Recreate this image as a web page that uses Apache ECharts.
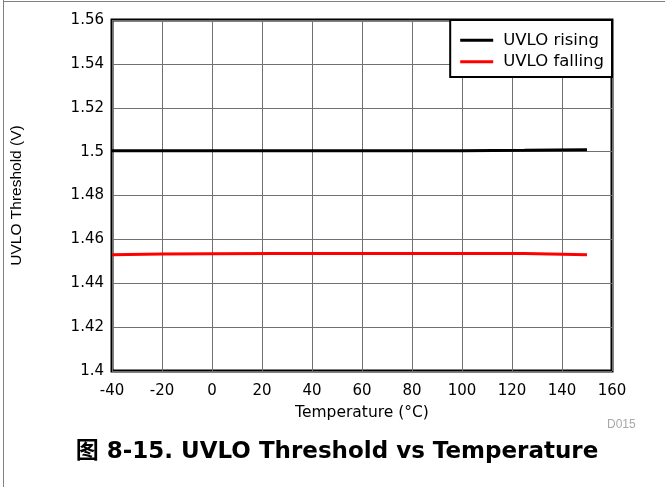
<!DOCTYPE html>
<html><head><meta charset="utf-8">
<script src="https://cdn.jsdelivr.net/npm/echarts@6/dist/echarts.min.js"></script>
<style>html,body{margin:0;padding:0;background:#fff}#c{width:665px;height:487px}</style>
</head><body><div id="c"></div>
<script>
const temps = [-40, -20, 0, 25, 50, 75, 100, 125, 150];
const uvloRising = [1.5004, 1.5004, 1.5004, 1.5004, 1.5004, 1.5004, 1.5004, 1.5006, 1.5009];
const uvloFalling = [1.4530, 1.4533, 1.4535, 1.4536, 1.4536, 1.4536, 1.4536, 1.4536, 1.4530];
const seriesNames = ['UVLO rising', 'UVLO falling'];
const xTitle = 'Temperature (°C)';
const yTitle = 'UVLO Threshold (V)';
const chartTitle = '图 8-15. UVLO Threshold vs Temperature';
const font = '"DejaVu Sans", "Noto Sans CJK SC", sans-serif';
const chart = echarts.init(document.getElementById('c'), null, {renderer: 'canvas'});
chart.setOption({
  animation: false,
  backgroundColor: '#fff',
  textStyle: {fontFamily: font},
  grid: {left: 112, right: 53, top: 20, bottom: 116, show: true, borderColor: '#000', borderWidth: 3, backgroundColor: 'transparent'},
  legend: {
    right: 53, top: 20, orient: 'vertical', backgroundColor: '#fff', borderColor: '#000', borderWidth: 2,
    padding: [12, 8, 7, 10], itemGap: 5, itemWidth: 33, itemHeight: 3, icon: 'rect',
    textStyle: {fontFamily: font, fontSize: 16.5, lineHeight: 16, color: '#000', padding: [0, 0, 0, 5]},
    data: seriesNames
  },
  xAxis: {
    type: 'value', min: -40, max: 160, interval: 20,
    name: xTitle, nameLocation: 'middle', nameGap: 34,
    nameTextStyle: {fontFamily: font, fontSize: 15.5, color: '#000'},
    axisLine: {show: false}, axisTick: {show: false},
    axisLabel: {fontFamily: font, fontSize: 15, color: '#000', margin: 13},
    splitLine: {show: true, lineStyle: {color: '#707070', width: 1}}
  },
  yAxis: {
    type: 'value', min: 1.4, max: 1.56, interval: 0.02,
    name: yTitle, nameLocation: 'middle', nameGap: 87, nameRotate: 90,
    nameTextStyle: {fontFamily: '"Liberation Sans", Arial, sans-serif', fontSize: 15.5, color: '#000'},
    axisLine: {show: false}, axisTick: {show: false},
    axisLabel: {fontFamily: font, fontSize: 15, color: '#000', margin: 8,
      formatter: v => String(+v.toFixed(2))},
    splitLine: {show: true, lineStyle: {color: '#707070', width: 1}}
  },
  series: [
    {name: seriesNames[0], type: 'line', showSymbol: false, symbol: 'none', color: '#000',
     lineStyle: {color: '#000', width: 3}, data: temps.map((t, i) => [t, uvloRising[i]])},
    {name: seriesNames[1], type: 'line', showSymbol: false, symbol: 'none', color: '#ff0000',
     lineStyle: {color: '#ff0000', width: 3}, data: temps.map((t, i) => [t, uvloFalling[i]])}
  ],
  graphic: [
    {type: 'line', shape: {x1: 3.5, y1: 0, x2: 3.5, y2: 487}, style: {stroke: '#808080', lineWidth: 1}},
    {type: 'line', shape: {x1: 3, y1: 1.5, x2: 665, y2: 1.5}, style: {stroke: '#808080', lineWidth: 1}},
    {type: 'text', x: 607, y: 419, style: {text: 'D015', font: '12px "Liberation Sans", Arial, sans-serif', fill: '#a8a8a8'}},
    {type: 'text', x: 337, y: 441, style: {text: chartTitle, textAlign: 'center', font: 'bold 23px ' + font, fill: '#000'}}
  ]
});
</script></body></html>
